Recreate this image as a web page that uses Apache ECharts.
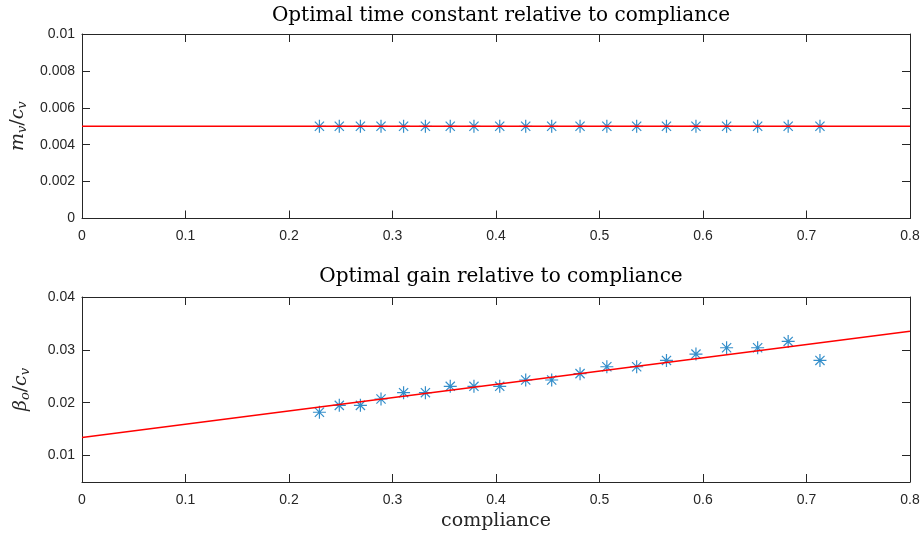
<!DOCTYPE html>
<html>
<head>
<meta charset="utf-8">
<script src="https://cdn.jsdelivr.net/npm/echarts@6/dist/echarts.min.js"></script>
<style>
  html, body { margin: 0; padding: 0; background: #fff; }
  #chart { width: 923px; height: 538px; }
</style>
</head>
<body>
<div id="chart"></div>
<script>
// Compliance values for each simulated case
const compliance = [0.2294, 0.2486, 0.2690, 0.2889, 0.3107, 0.3318, 0.3558, 0.3787, 0.4036, 0.4287,
                    0.4538, 0.4812, 0.5071, 0.5359, 0.5647, 0.5932, 0.6228, 0.6528, 0.6823, 0.7130];
// Optimal time constant m_v / c_v
const timeConst = [0.005, 0.005, 0.005, 0.005, 0.005, 0.005, 0.005, 0.005, 0.005, 0.005,
                   0.005, 0.005, 0.005, 0.005, 0.005, 0.005, 0.005, 0.005, 0.005, 0.005];
// Optimal gain beta_o / c_v
const gain = [0.0182, 0.0195, 0.0195, 0.0207, 0.0219, 0.0219, 0.0231, 0.0231, 0.0231, 0.0243,
              0.0243, 0.0255, 0.0268, 0.0268, 0.0280, 0.0292, 0.0304, 0.0304, 0.0316, 0.0280];
// Fitted lines (end points)
const fitX = [0, 0.8];
const fitTimeConst = [0.005, 0.005];
const fitGain = [0.0134, 0.0335];
// Tick values
const xTicks = [0, 0.1, 0.2, 0.3, 0.4, 0.5, 0.6, 0.7, 0.8];
const topYTicks = [0, 0.002, 0.004, 0.006, 0.008, 0.01];
const bottomYTicks = [0.01, 0.02, 0.03, 0.04];

const AX = '#262626';
const SANS = 'Liberation Sans, Arial, Helvetica, sans-serif';
const SERIF = 'DejaVu Serif, Liberation Serif, serif';
const TICK_LEN = 8;

function pairs(xs, ys) { return xs.map((x, i) => [x, ys[i]]); }

// Asterisk marker: plus and cross overlaid
const STAR = 'path://M0,-1L0,1M-1,0L1,0M-0.707,-0.707L0.707,0.707M-0.707,0.707L0.707,-0.707';

function xAxis(gridIndex, position, showLabels, name) {
  return {
    type: 'value', gridIndex, position, min: 0, max: 0.8,
    name: name || '', nameLocation: 'middle', nameGap: 30,
    nameTextStyle: { fontFamily: SERIF, fontSize: 19, color: '#262626' },
    axisLine: { show: true, onZero: false, lineStyle: { color: AX, width: 1 } },
    axisTick: { show: true, inside: true, length: TICK_LEN, customValues: xTicks, lineStyle: { color: AX } },
    axisLabel: { show: showLabels, customValues: xTicks, margin: 11, color: AX, fontFamily: SANS, fontSize: 14,
                 formatter: v => String(+v.toFixed(2)) },
    splitLine: { show: false }
  };
}

function yAxis(gridIndex, position, min, max, ticks, showLabels, name) {
  return {
    type: 'value', gridIndex, position, min, max,
    name: name || '', nameLocation: 'middle', nameGap: 50, nameRotate: 90,
    nameTextStyle: {
      color: '#262626',
      rich: {
        i: { fontFamily: SERIF, fontStyle: 'italic', fontSize: 19, color: '#262626' },
        s: { fontFamily: SERIF, fontStyle: 'italic', fontSize: 13, color: '#262626', padding: [9, 0, 0, 0] },
        n: { fontFamily: SERIF, fontSize: 19, color: '#262626' }
      }
    },
    axisLine: { show: true, onZero: false, lineStyle: { color: AX, width: 1 } },
    axisTick: { show: true, inside: true, length: TICK_LEN, customValues: ticks, lineStyle: { color: AX } },
    axisLabel: { show: showLabels, customValues: ticks, margin: 7, color: AX, fontFamily: SANS, fontSize: 14,
                 formatter: v => String(+v.toFixed(4)) },
    splitLine: { show: false }
  };
}

const chart = echarts.init(document.getElementById('chart'), null, { renderer: 'canvas' });

chart.setOption({
  animation: false,
  backgroundColor: '#fff',
  title: [
    { text: 'Optimal time constant relative to compliance', left: 496, top: 1, textAlign: 'center',
      textStyle: { fontFamily: SERIF, fontWeight: 'normal', fontSize: 20, color: '#000' } },
    { text: 'Optimal gain relative to compliance', left: 496, top: 262, textAlign: 'center',
      textStyle: { fontFamily: SERIF, fontWeight: 'normal', fontSize: 20, color: '#000' } }
  ],
  grid: [
    { left: 82, right: 13, top: 34, bottom: 319.5 },
    { left: 82, right: 13, top: 297, bottom: 56 }
  ],
  xAxis: [
    xAxis(0, 'bottom', true),
    xAxis(0, 'top', false),
    xAxis(1, 'bottom', true, 'compliance'),
    xAxis(1, 'top', false)
  ],
  yAxis: [
    yAxis(0, 'left', 0, 0.01, topYTicks, true, '{i|m}{s|v}{n|/}{i|c}{s|v}'),
    yAxis(0, 'right', 0, 0.01, topYTicks, false),
    yAxis(1, 'left', 0.005, 0.04, bottomYTicks, true, '{i|β}{s|o}{n|/}{i|c}{s|v}'),
    yAxis(1, 'right', 0.005, 0.04, bottomYTicks, false)
  ],
  series: [
    {
      type: 'scatter', xAxisIndex: 0, yAxisIndex: 0, data: pairs(compliance, timeConst),
      symbol: STAR, symbolSize: 13,
      itemStyle: { color: '#0072BD', borderColor: '#0072BD', borderWidth: 1.2 }, z: 2
    },
    {
      type: 'line', xAxisIndex: 0, yAxisIndex: 0, data: pairs(fitX, fitTimeConst),
      showSymbol: false, lineStyle: { color: '#ff0000', width: 1.5 }, z: 3
    },
    {
      type: 'scatter', xAxisIndex: 2, yAxisIndex: 2, data: pairs(compliance, gain),
      symbol: STAR, symbolSize: 13,
      itemStyle: { color: '#0072BD', borderColor: '#0072BD', borderWidth: 1.2 }, z: 2
    },
    {
      type: 'line', xAxisIndex: 2, yAxisIndex: 2, data: pairs(fitX, fitGain),
      showSymbol: false, lineStyle: { color: '#ff0000', width: 1.5 }, z: 3
    }
  ]
});
</script>
</body>
</html>
